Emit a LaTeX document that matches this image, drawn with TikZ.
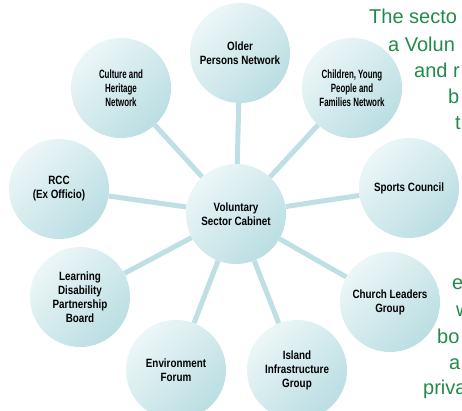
\documentclass[tikz,border=0pt]{standalone}
\usepackage{fontspec}
\setmainfont{Liberation Sans}
\newfontfamily\netfont[FakeStretch=0.82]{Liberation Sans}
\newfontfamily\nettightfont[FakeStretch=0.66]{Liberation Sans}
\usetikzlibrary{backgrounds}

\definecolor{netlight}{RGB}{236,246,247}
\definecolor{netdark}{RGB}{186,222,227}
\definecolor{netline}{RGB}{190,224,229}
\definecolor{bodygreen}{RGB}{34,139,74}

\begin{document}
\begin{tikzpicture}[%
      x=1pt, y=-1pt,
      net/.style={circle, minimum size=100pt, inner sep=0pt, align=center,
        shading=axis, top color=netlight, bottom color=netdark, shading angle=45,
        font=\netfont\bfseries\fontsize{12}{14}\selectfont},
      nettight/.style={font=\nettightfont\bfseries\fontsize{12}{14}\selectfont},
      link/.style={color=netline, line width=5pt},
      body/.style={anchor=base west, inner sep=0pt, text=bodygreen,
        font=\fontsize{20}{24}\selectfont},
      ]
      \useasboundingbox (0,0) rectangle (462,411);
      \clip (0,0) rectangle (462,411);

      \node[net] (cab) at (236,214) {Voluntary\\Sector Cabinet};
      \node[net] (older) at (240,53) {Older\\Persons Network};
      \node[net, nettight] (culture) at (121,88) {Culture and\\Heritage\\Network};
      \node[net, nettight] (children) at (352,88) {Children, Young\\People and\\Families Network};
      \node[net] (sports) at (409,188) {Sports Council};
      \node[net] (church) at (390,302) {Church Leaders\\Group};
      \node[net] (island) at (297,370) {Island\\Infrastructure\\Group};
      \node[net] (environ) at (176,370) {Environment\\Forum};
      \node[net] (learning) at (80,297) {Learning\\Disability\\Partnership\\Board};
      \node[net] (rcc) at (59,189) {RCC\\(Ex Officio)};

      \begin{scope}[on background layer]
      \fill[white] (0,0) rectangle (462,411);
      \foreach \n in {older,children,sports,church,island,environ,learning,rcc,culture}
        \draw[link] (cab) -- (\n);
      \end{scope}

      \node[body] (t1) at (369,24) {The secto};
      \node[body] (t2) at (388,52) {a Volun};
      \node[body] (t3) at (414,78) {and r};
      \node[body] (t4) at (448,104) {b};
      \node[body] (t5) at (455,130) {t};
      \node[body] (t6) at (452,289) {e};
      \node[body] (t7) at (456,316) {w};
      \node[body] (t8) at (437,343) {bo};
      \node[body] (t9) at (449,369) {a};
      \node[body] (t10) at (423,394) {priva};
      \end{tikzpicture}
\end{document}
